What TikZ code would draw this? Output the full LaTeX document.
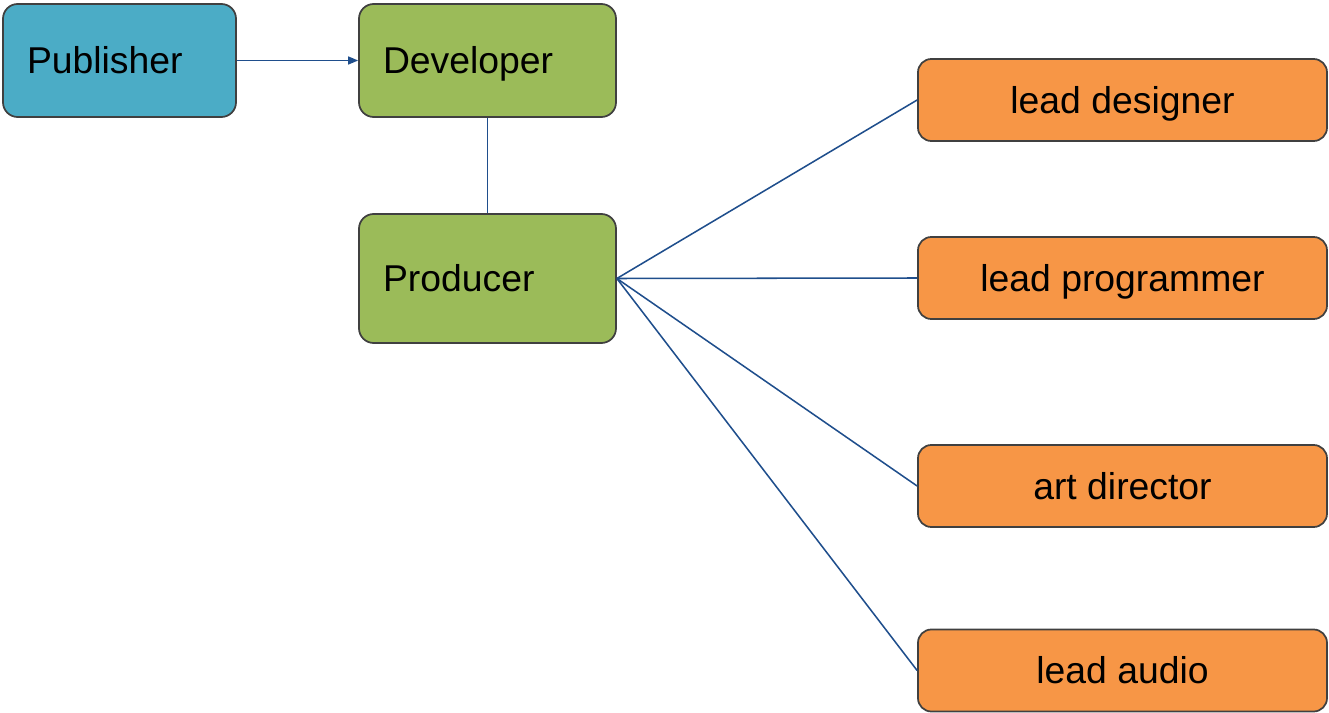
\documentclass[tikz,border=0pt]{standalone}
\usepackage{fontspec}
\setmainfont{Liberation Sans}
\usetikzlibrary{arrows.meta}
\definecolor{pubc}{HTML}{4BACC6}
\definecolor{devc}{HTML}{9BBB59}
\definecolor{leadc}{HTML}{F79646}
\definecolor{edgec}{HTML}{404040}
\definecolor{linkc}{HTML}{1F4E8C}
\tikzset{
  box/.style={draw=edgec, line width=1.3pt, rounded corners=11pt, font=\fontsize{28pt}{33pt}\selectfont, inner ysep=0pt, text height=20pt, text depth=0pt},
  leftbox/.style={box, align=left, inner xsep=18pt, text width=#1},
  leadbox/.style={box, fill=leadc, minimum width=306.75pt, minimum height=61.5pt, rounded corners=10pt},
  link/.style={draw=linkc, line width=1.15pt}
}
\begin{document}
\begin{tikzpicture}[x=0.75pt,y=-0.75pt]
\useasboundingbox (0,0) rectangle (1329,713);
\node[leftbox=138.75pt, fill=pubc, minimum height=84.75pt] (pub) at (119.5,60.5) {Publisher};
\node[leftbox=156.75pt, fill=devc, minimum height=84.75pt] (dev) at (487.5,60.5) {Developer};
\node[leftbox=156.75pt, fill=devc, minimum height=96.75pt] (prod) at (487.5,278.5) {Producer};
\node[leadbox] (ld) at (1122.5,100) {lead designer};
\node[leadbox] (lp) at (1122.5,278) {lead programmer};
\node[leadbox] (ad) at (1122.5,486) {art director};
\node[leadbox] (la) at (1122.5,670.5) {lead audio};
\draw[link, -{Triangle[length=7.5pt,width=6pt]}] (pub.east) -- (dev.west);
\draw[link] (dev.south) -- (prod.north);
\draw[link] (prod.east) -- (ld.west);
\draw[link] (prod.east) -- (lp.west);
\draw[link] (prod.east) -- (ad.west);
\draw[link] (prod.east) -- (la.west);
\end{tikzpicture}
\end{document}
